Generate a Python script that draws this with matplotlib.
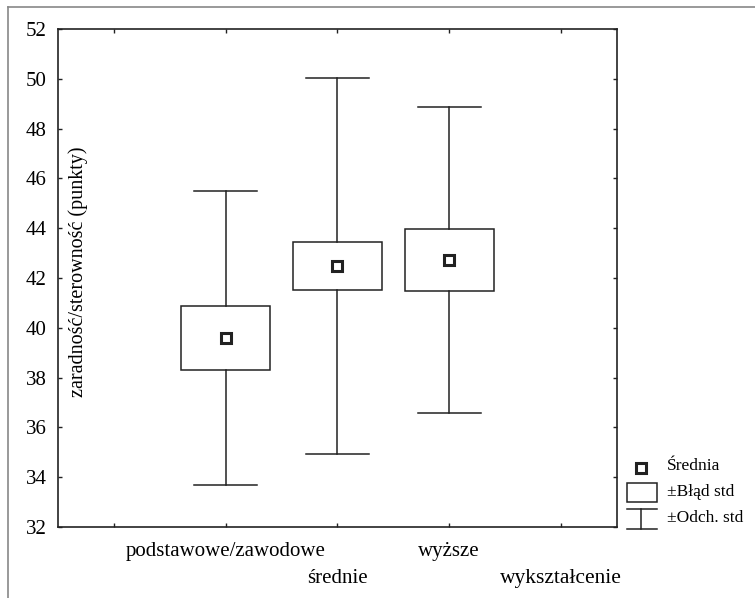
import numpy as np
import matplotlib
matplotlib.use('Agg')
import matplotlib.pyplot as plt
from matplotlib.patches import Rectangle
from matplotlib.lines import Line2D

plt.rcParams.update({'font.family': 'Liberation Serif', 'font.size': 14})

# data
categories = ['podstawowe/zawodowe', 'średnie', 'wyższe']
means = [39.59, 42.48, 42.72]
std_err = [1.27, 0.95, 1.26]
std_dev = [5.91, 7.55, 6.13]
y_label = 'zaradność/sterowność (punkty)'
x_label = 'wykształcenie'
legend_labels = ['Średnia', '±Błąd std', '±Odch. std']

BOX_W = 0.8
CAP_W = 0.56
LW = 1.1
ROW2_Y = -0.103  # second row of staggered labels, axes fraction

fig = plt.figure(figsize=(7.55, 5.98), dpi=100)
ax = fig.add_axes([0.0768, 0.1187, 0.7404, 0.8328])

x = np.arange(1, len(categories) + 1)
for xi, m, se, sd in zip(x, means, std_err, std_dev):
    # whiskers (+- std dev)
    ax.plot([xi, xi], [m + se, m + sd], color='#222222', lw=LW)
    ax.plot([xi, xi], [m - sd, m - se], color='#222222', lw=LW)
    ax.plot([xi - CAP_W / 2, xi + CAP_W / 2], [m + sd, m + sd], color='#222222', lw=LW)
    ax.plot([xi - CAP_W / 2, xi + CAP_W / 2], [m - sd, m - sd], color='#222222', lw=LW)
    # box (+- std err)
    ax.add_patch(Rectangle((xi - BOX_W / 2, m - se), BOX_W, 2 * se,
                           facecolor='white', edgecolor='#222222', lw=LW))
ax.plot(x, means, ls='none', marker='s', ms=7, mfc='white', mec='#222222', mew=2.2, zorder=5)

ax.set_xlim(-0.5, 4.5)
ax.set_ylim(32, 52)
ax.set_yticks(np.arange(32, 53, 2))
ax.set_xticks(np.arange(0, 5))
# staggered labels: even ones on the tick row, odd ones one row lower
tick_lbls = [''] + [c if i % 2 == 0 else '' for i, c in enumerate(categories)] + ['']
ax.set_xticklabels(tick_lbls, fontsize=15)
for i, c in enumerate(categories):
    if i % 2 == 1:
        ax.text(x[i], ROW2_Y, c, transform=ax.get_xaxis_transform(),
                ha='center', va='center', fontsize=15)

ax.tick_params(direction='in', top=True, right=True, length=3, width=1, color='#222222')
ax.tick_params(axis='y', pad=8, labelsize=15)
ax.tick_params(axis='x', pad=11)
for s in ax.spines.values():
    s.set_linewidth(1.2)
    s.set_color('#222222')

# y label sits inside the plot area
ax.text(0.036, 0.512, y_label, transform=ax.transAxes, rotation=90,
        ha='center', va='center', fontsize=14.5)
# x label on the second row, under the last tick
ax.text(len(categories) + 1, ROW2_Y, x_label, transform=ax.get_xaxis_transform(),
        ha='center', va='center', fontsize=15.5)

# hand-made legend
lx = 641 / 755
fig.add_artist(Line2D([lx], [1 - 468 / 598], ls='none', marker='s', ms=7, mfc='white',
                      mec='#222222', mew=2.2, transform=fig.transFigure))
fig.add_artist(Rectangle((627 / 755, 1 - 502 / 598), 30 / 755, 19 / 598, facecolor='white',
                         edgecolor='#222222', lw=LW, transform=fig.transFigure))
fig.add_artist(Line2D([627 / 755, 657 / 755], [1 - 509 / 598] * 2, color='#222222', lw=LW,
                      transform=fig.transFigure))
fig.add_artist(Line2D([627 / 755, 657 / 755], [1 - 529 / 598] * 2, color='#222222', lw=LW,
                      transform=fig.transFigure))
fig.add_artist(Line2D([lx, lx], [1 - 509 / 598, 1 - 529 / 598], color='#222222', lw=LW,
                      transform=fig.transFigure))
for lab, yy in zip(legend_labels, [466, 492, 518]):
    fig.text(667 / 755, 1 - yy / 598, lab, ha='left', va='center', fontsize=12.5)

# outer frame (cropped)
fig.add_artist(Line2D([8 / 755, 1], [1 - 6.5 / 598] * 2, color='#888888', lw=1.2,
                      transform=fig.transFigure))
fig.add_artist(Line2D([8 / 755] * 2, [0, 1 - 6.5 / 598], color='#888888', lw=1.2,
                      transform=fig.transFigure))

fig.savefig('out.png', dpi=100)
